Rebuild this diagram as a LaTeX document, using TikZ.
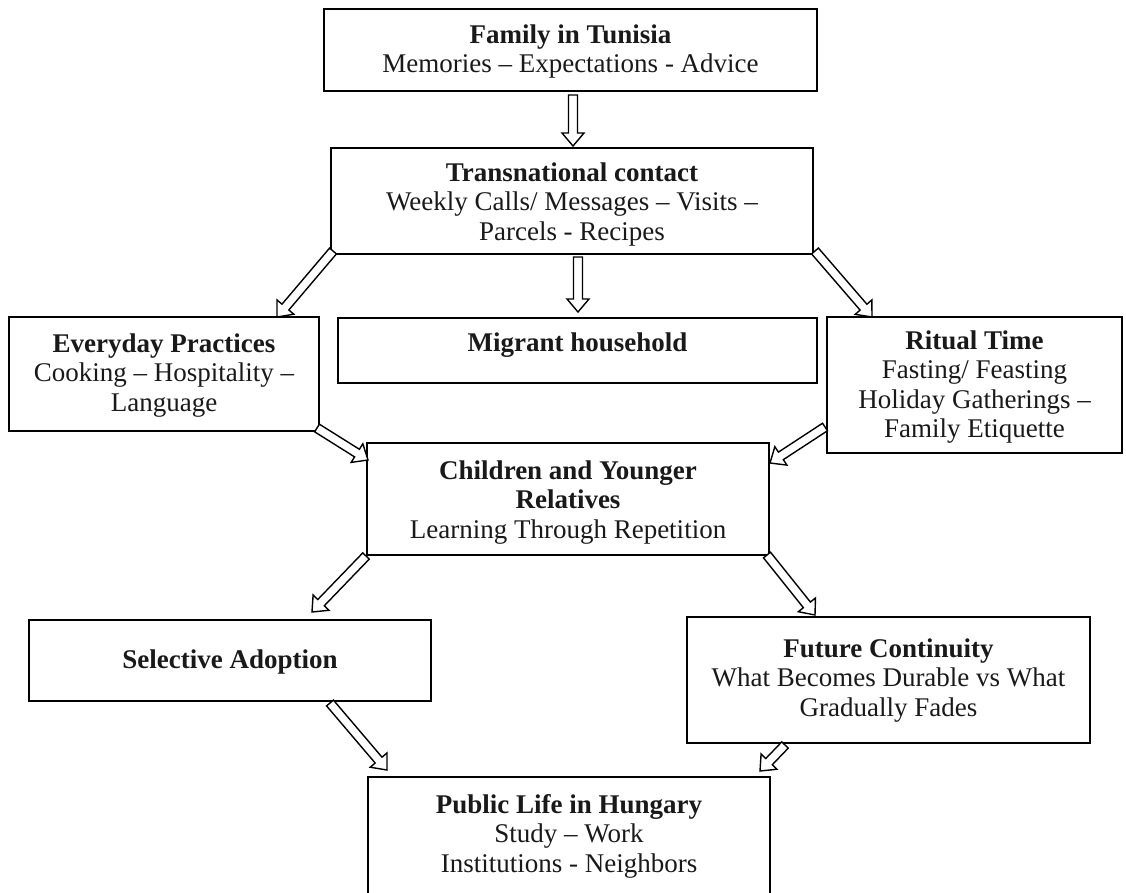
\documentclass[tikz,border=0pt]{standalone}
\usepackage{fontspec}
\setmainfont{Liberation Serif}
\usetikzlibrary{calc}
\tikzset{
  box/.style={draw=black, line width=2.5pt, rectangle, inner sep=0pt},
  txt/.style={align=center, inner sep=0pt, font=\fontsize{27}{29.5}\selectfont, text=black!90},
  barrow/.style={draw=black, line width=1.4pt, fill=white, line join=miter},
}
\newcommand\blockarrow[2]{%
  \coordinate (bahead) at ($(#2)!13pt!(#1)$);
  \draw[barrow] ($(#1)!4.5pt!90:(#2)$) -- ($(bahead)!4.5pt!-90:(#1)$) -- ($(bahead)!11pt!-90:(#1)$) -- (#2)
     -- ($(bahead)!11pt!90:(#1)$) -- ($(bahead)!4.5pt!90:(#1)$) -- ($(#1)!4.5pt!-90:(#2)$) -- cycle;
}
\begin{document}
\begin{tikzpicture}[x=1pt,y=-1pt]
\useasboundingbox (0,0) rectangle (1126,893);
% boxes
\node[box, minimum width=493pt, minimum height=82pt] (fam) at (570.5,50) {};
\node[box, minimum width=482pt, minimum height=106pt] (trans) at (572,201) {};
\node[box, minimum width=310pt, minimum height=114pt] (every) at (164,374) {};
\node[box, minimum width=479pt, minimum height=65pt] (migr) at (577.5,350.5) {};
\node[box, minimum width=295pt, minimum height=136pt] (ritual) at (974.5,385) {};
\node[box, minimum width=402pt, minimum height=112pt] (child) at (568,499) {};
\node[box, minimum width=402pt, minimum height=81pt] (select) at (230,660.5) {};
\node[box, minimum width=403pt, minimum height=126pt] (future) at (888.5,680) {};
\node[box, minimum width=402pt, minimum height=128pt] (public) at (569,841) {};
% texts
\node[txt, anchor=north] (famt) at ([yshift=-16.5pt]fam.north) {\textbf{Family in Tunisia}\\Memories – Expectations - Advice};
\node[txt, anchor=north] (transt) at ([yshift=-15.5pt]trans.north) {\textbf{Transnational contact}\\Weekly Calls/ Messages – Visits –\\Parcels - Recipes};
\node[txt, anchor=north] (everyt) at ([yshift=-17.5pt]every.north) {\textbf{Everyday Practices}\\Cooking – Hospitality –\\Language};
\node[txt, anchor=north] (migrt) at ([yshift=-15.5pt]migr.north) {\textbf{Migrant household}};
\node[txt, anchor=north] (ritualt) at ([yshift=-14.5pt]ritual.north) {\textbf{Ritual Time}\\Fasting/ Feasting\\Holiday Gatherings –\\Family Etiquette};
\node[txt, anchor=north] (childt) at ([yshift=-18.5pt]child.north) {\textbf{Children and Younger}\\\textbf{Relatives}\\Learning Through Repetition};
\node[txt, anchor=base] (selectt) at (230,668) {\textbf{Selective Adoption}};
\node[txt, anchor=north] (futuret) at ([yshift=-22.5pt]future.north) {\textbf{Future Continuity}\\What Becomes Durable vs What\\Gradually Fades};
\node[txt, anchor=north] (publict) at ([yshift=-18.5pt]public.north) {\textbf{Public Life in Hungary}\\Study – Work\\Institutions - Neighbors};
% arrow end points
\coordinate (a1s) at (573,95);  \coordinate (a1e) at (573,146);
\coordinate (a2s) at (578,257); \coordinate (a2e) at (578,312);
\coordinate (a3s) at (333,251); \coordinate (a3e) at (277,317);
\coordinate (a4s) at (815,251); \coordinate (a4e) at (872,317);
\coordinate (a5s) at (317,428); \coordinate (a5e) at (368,460);
\coordinate (a6s) at (825,427); \coordinate (a6e) at (770,463);
\coordinate (a7s) at (366,556); \coordinate (a7e) at (312,612);
\coordinate (a8s) at (767,555); \coordinate (a8e) at (815,615);
\coordinate (a9s) at (330,703); \coordinate (a9e) at (387,770);
\coordinate (a10s) at (785,745); \coordinate (a10e) at (760,771);
\blockarrow{a1s}{a1e}
\blockarrow{a2s}{a2e}
\blockarrow{a3s}{a3e}
\blockarrow{a4s}{a4e}
\blockarrow{a5s}{a5e}
\blockarrow{a6s}{a6e}
\blockarrow{a7s}{a7e}
\blockarrow{a8s}{a8e}
\blockarrow{a9s}{a9e}
\blockarrow{a10s}{a10e}
\end{tikzpicture}
\end{document}
